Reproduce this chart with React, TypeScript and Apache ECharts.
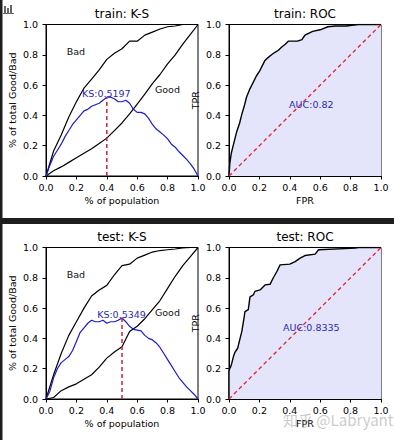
import React, { useEffect, useRef } from "react";
import * as echarts from "echarts";

// ---------- data ----------
const popCoarse = [0, 0.05, 0.1, 0.15, 0.2, 0.25, 0.3, 0.35, 0.4, 0.45, 0.5, 0.55, 0.6, 0.65, 0.7, 0.75, 0.8, 0.85, 0.9, 0.95, 1.0];
const popFine = [0, 0.025, 0.05, 0.075, 0.1, 0.125, 0.15, 0.175, 0.2, 0.225, 0.25, 0.275, 0.3, 0.325, 0.35, 0.375, 0.4, 0.425, 0.45, 0.475, 0.5, 0.525, 0.55, 0.575, 0.6, 0.625, 0.65, 0.675, 0.7, 0.725, 0.75, 0.775, 0.8, 0.825, 0.85, 0.875, 0.9, 0.925, 0.95, 0.975, 1.0];

const trainBad = [0, 0.165, 0.27, 0.39, 0.49, 0.58, 0.64, 0.7, 0.77, 0.81, 0.84, 0.89, 0.89, 0.93, 0.95, 0.97, 0.985, 0.99, 1.0, 1.0, 1.0];
const trainGood = [0, 0.035, 0.06, 0.09, 0.12, 0.15, 0.18, 0.215, 0.25, 0.3, 0.35, 0.41, 0.475, 0.54, 0.61, 0.67, 0.74, 0.8, 0.87, 0.935, 1.0];
const trainKS = [0, 0.07, 0.13, 0.17, 0.21, 0.26, 0.3, 0.34, 0.37, 0.4, 0.43, 0.44, 0.46, 0.47, 0.48, 0.5, 0.5197, 0.52, 0.51, 0.49, 0.49, 0.5, 0.48, 0.44, 0.42, 0.42, 0.41, 0.38, 0.34, 0.31, 0.29, 0.27, 0.245, 0.21, 0.19, 0.16, 0.135, 0.11, 0.08, 0.045, 0];
const trainKSPoint = [0.4, 0.5197];

const testBad = [0, 0.16, 0.3, 0.42, 0.51, 0.6, 0.68, 0.72, 0.75, 0.82, 0.88, 0.89, 0.93, 0.95, 0.97, 0.98, 0.985, 0.99, 0.997, 1.0, 1.0];
const testGood = [0, 0.01, 0.055, 0.08, 0.1, 0.13, 0.16, 0.21, 0.27, 0.31, 0.345, 0.445, 0.48, 0.53, 0.59, 0.65, 0.73, 0.81, 0.88, 0.94, 1.0];
const testKS = [0, 0.05, 0.14, 0.2, 0.24, 0.26, 0.28, 0.32, 0.38, 0.44, 0.47, 0.5, 0.52, 0.51, 0.51, 0.52, 0.5, 0.51, 0.51, 0.52, 0.5349, 0.51, 0.48, 0.46, 0.455, 0.45, 0.42, 0.4, 0.39, 0.37, 0.34, 0.3, 0.26, 0.22, 0.18, 0.14, 0.11, 0.08, 0.055, 0.03, 0];
const testKSPoint = [0.5, 0.5349];

const trainFPR = [0, 0.005, 0.015, 0.03, 0.05, 0.07, 0.085, 0.1, 0.115, 0.135, 0.155, 0.18, 0.2, 0.215, 0.235, 0.255, 0.28, 0.3, 0.325, 0.345, 0.37, 0.39, 0.45, 0.48, 0.5, 0.52, 0.55, 0.6, 0.65, 0.7, 0.77, 0.85, 1.0];
const trainTPR = [0, 0.08, 0.15, 0.21, 0.29, 0.35, 0.41, 0.46, 0.52, 0.57, 0.61, 0.66, 0.69, 0.72, 0.76, 0.78, 0.8, 0.815, 0.83, 0.85, 0.87, 0.89, 0.89, 0.9, 0.93, 0.94, 0.955, 0.965, 0.985, 0.99, 0.99, 1.0, 1.0];
const trainAUC = "0.82";

const testFPR = [0, 0, 0.004, 0.01, 0.018, 0.029, 0.04, 0.057, 0.068, 0.084, 0.095, 0.105, 0.127, 0.138, 0.16, 0.17, 0.204, 0.237, 0.27, 0.29, 0.314, 0.336, 0.4, 0.435, 0.468, 0.5, 0.567, 0.589, 0.83, 0.853, 1.0];
const testTPR = [0, 0.18, 0.2, 0.21, 0.235, 0.28, 0.31, 0.335, 0.38, 0.445, 0.51, 0.577, 0.59, 0.674, 0.687, 0.71, 0.72, 0.753, 0.757, 0.797, 0.84, 0.885, 0.89, 0.907, 0.93, 0.947, 0.956, 0.985, 0.996, 1, 1];
const testAUC = "0.8335";

const tickValues = [0, 0.2, 0.4, 0.6, 0.8, 1.0];
const titles = ["train: K-S", "train: ROC", "test: K-S", "test: ROC"];

// ---------- helpers ----------
const FONT = "DejaVu Sans";
const zip = (xs: number[], ys: number[]) => xs.map((x, i) => [x, ys[i]]);

const grids = [
  { left: 46, top: 24.5, width: 152, height: 151.5 },
  { left: 229, top: 24.5, width: 152, height: 151.5 },
  { left: 46, top: 247.5, width: 152, height: 151.5 },
  { left: 229, top: 247.5, width: 152, height: 151.5 },
];

function xAxis(i: number, name: string) {
  return {
    gridIndex: i,
    type: "value",
    min: tickValues[0],
    max: tickValues[tickValues.length - 1],
    interval: tickValues[1] - tickValues[0],
    axisLine: { show: true, onZero: false, lineStyle: { color: "#000", width: 1 } },
    axisTick: { show: true, length: 3.5, lineStyle: { color: "#000", width: 1 } },
    axisLabel: { fontSize: 9.5, color: "#000", margin: 6, fontFamily: FONT, formatter: (v: number) => v.toFixed(1) },
    splitLine: { show: false },
    name,
    nameLocation: "middle",
    nameGap: 19,
    nameTextStyle: { fontSize: 9.5, color: "#000", fontFamily: FONT },
  };
}
function yAxis(i: number, name: string) {
  return {
    gridIndex: i,
    type: "value",
    min: tickValues[0],
    max: tickValues[tickValues.length - 1],
    interval: tickValues[1] - tickValues[0],
    axisLine: { show: true, onZero: false, lineStyle: { color: "#000", width: 1 } },
    axisTick: { show: true, length: 3.5, lineStyle: { color: "#000", width: 1 } },
    axisLabel: { fontSize: 9.5, color: "#000", margin: 8, fontFamily: FONT, formatter: (v: number) => v.toFixed(1) },
    splitLine: { show: false },
    name,
    nameLocation: "middle",
    nameGap: 29,
    nameTextStyle: { fontSize: 9.5, color: "#000", fontFamily: FONT },
  };
}
function line(i: number, data: number[][], color: string, width: number, extra: any = {}) {
  return {
    type: "line",
    xAxisIndex: i,
    yAxisIndex: i,
    data,
    showSymbol: false,
    symbol: "none",
    silent: true,
    lineStyle: { color, width },
    ...extra,
  };
}
function label(i: number, x: number, y: number, text: string, color: string, align: string) {
  return {
    type: "scatter",
    xAxisIndex: i,
    yAxisIndex: i,
    data: [[x, y]],
    symbolSize: 1,
    itemStyle: { color: "rgba(0,0,0,0)" },
    silent: true,
    z: 6,
    label: {
      show: true,
      position: [0, 0],
      align,
      verticalAlign: "bottom",
      offset: [0, 2],
      formatter: text,
      color,
      opacity: 1,
      textBorderWidth: 0,
      fontSize: 9.5,
      fontFamily: FONT,
    },
  };
}

function ksSeries(i: number, bad: number[], good: number[], ks: number[], pt: number[]) {
  return [
    line(i, zip(popCoarse, bad), "#000", 1.2),
    line(i, zip(popCoarse, good), "#000", 1.2),
    line(i, zip(popFine, ks), "#1c1cc8", 1.2),
    line(i, [[pt[0], 0], [pt[0], pt[1]]], "#cc2233", 1.5, { lineStyle: { color: "#cc2233", width: 1.5, type: [4, 3] } }),
    label(i, 0.14, 0.8, "Bad", "#111111", "left"),
    label(i, 0.72, 0.55, "Good", "#111111", "left"),
    label(i, pt[0], pt[1], "KS:" + pt[1].toFixed(4), "#2a2ab4", "center"),
  ];
}
function rocSeries(i: number, fpr: number[], tpr: number[], auc: string) {
  return [
    line(i, zip(fpr, tpr), "#000", 1.4, { areaStyle: { color: "#e4e4fb", opacity: 1, origin: "start" }, z: 2 }),
    line(i, [[0, 0], [1, 1]], "#e0203c", 1.3, { lineStyle: { color: "#e0203c", width: 1.3, type: [4, 3] }, z: 3 }),
    label(i, 0.545, 0.45, "AUC:" + auc, "#2a2ab4", "center"),
  ];
}

export default function App() {
  const ref = useRef<HTMLDivElement>(null);
  useEffect(() => {
    if (!ref.current) return;
    const chart = echarts.init(ref.current, null, { renderer: "svg" });
    const titleCenters = [
      [122, 14],
      [305, 14],
      [122, 237],
      [305, 237],
    ];
    const option: any = {
      animation: false,
      backgroundColor: "#fff",
      grid: grids.map((g) => ({ ...g, show: true, borderColor: "#000", borderWidth: 1, backgroundColor: "transparent", containLabel: false })),
      xAxis: [xAxis(0, "% of population"), xAxis(1, "FPR"), xAxis(2, "% of population"), xAxis(3, "FPR")],
      yAxis: [yAxis(0, "% of total Good/Bad"), yAxis(1, "TPR"), yAxis(2, "% of total Good/Bad"), yAxis(3, "TPR")],
      series: [
        ...ksSeries(0, trainBad, trainGood, trainKS, trainKSPoint),
        ...rocSeries(1, trainFPR, trainTPR, trainAUC),
        ...ksSeries(2, testBad, testGood, testKS, testKSPoint),
        ...rocSeries(3, testFPR, testTPR, testAUC),
      ],
      graphic: [
        { type: "rect", shape: { x: 0, y: 0, width: 2.5, height: 440 }, style: { fill: "#1e1e1e" }, silent: true },
        { type: "rect", shape: { x: 0, y: 218, width: 394, height: 6 }, style: { fill: "#1e1e1e" }, silent: true },
        // small icon top-left
        { type: "rect", shape: { x: 4, y: 6, width: 2, height: 7 }, style: { fill: "#666" }, silent: true },
        { type: "rect", shape: { x: 7, y: 8, width: 2, height: 5 }, style: { fill: "#666" }, silent: true },
        { type: "rect", shape: { x: 10, y: 5, width: 2, height: 8 }, style: { fill: "#666" }, silent: true },
        { type: "rect", shape: { x: 3, y: 13, width: 11, height: 1 }, style: { fill: "#666" }, silent: true },
        ...titles.map((t, k) => ({
          type: "text",
          x: titleCenters[k][0],
          y: titleCenters[k][1],
          silent: true,
          style: { text: t, align: "center", verticalAlign: "middle", fontSize: 12, fontFamily: FONT, fill: "#000" },
        })),
        {
          type: "text",
          x: 283,
          y: 419,
          silent: true,
          z: 100,
          style: {
            text: "知乎 @Labryant",
            align: "left",
            verticalAlign: "middle",
            fontSize: 15,
            fontFamily: "Noto Sans CJK SC",
            fill: "rgba(150,150,150,0.5)",
          },
        },
      ],
    };
    chart.setOption(option);
    return () => chart.dispose();
  }, []);
  return <div ref={ref} style={{ position: "absolute", left: 0, top: 0, width: 394, height: 440 }} />;
}
